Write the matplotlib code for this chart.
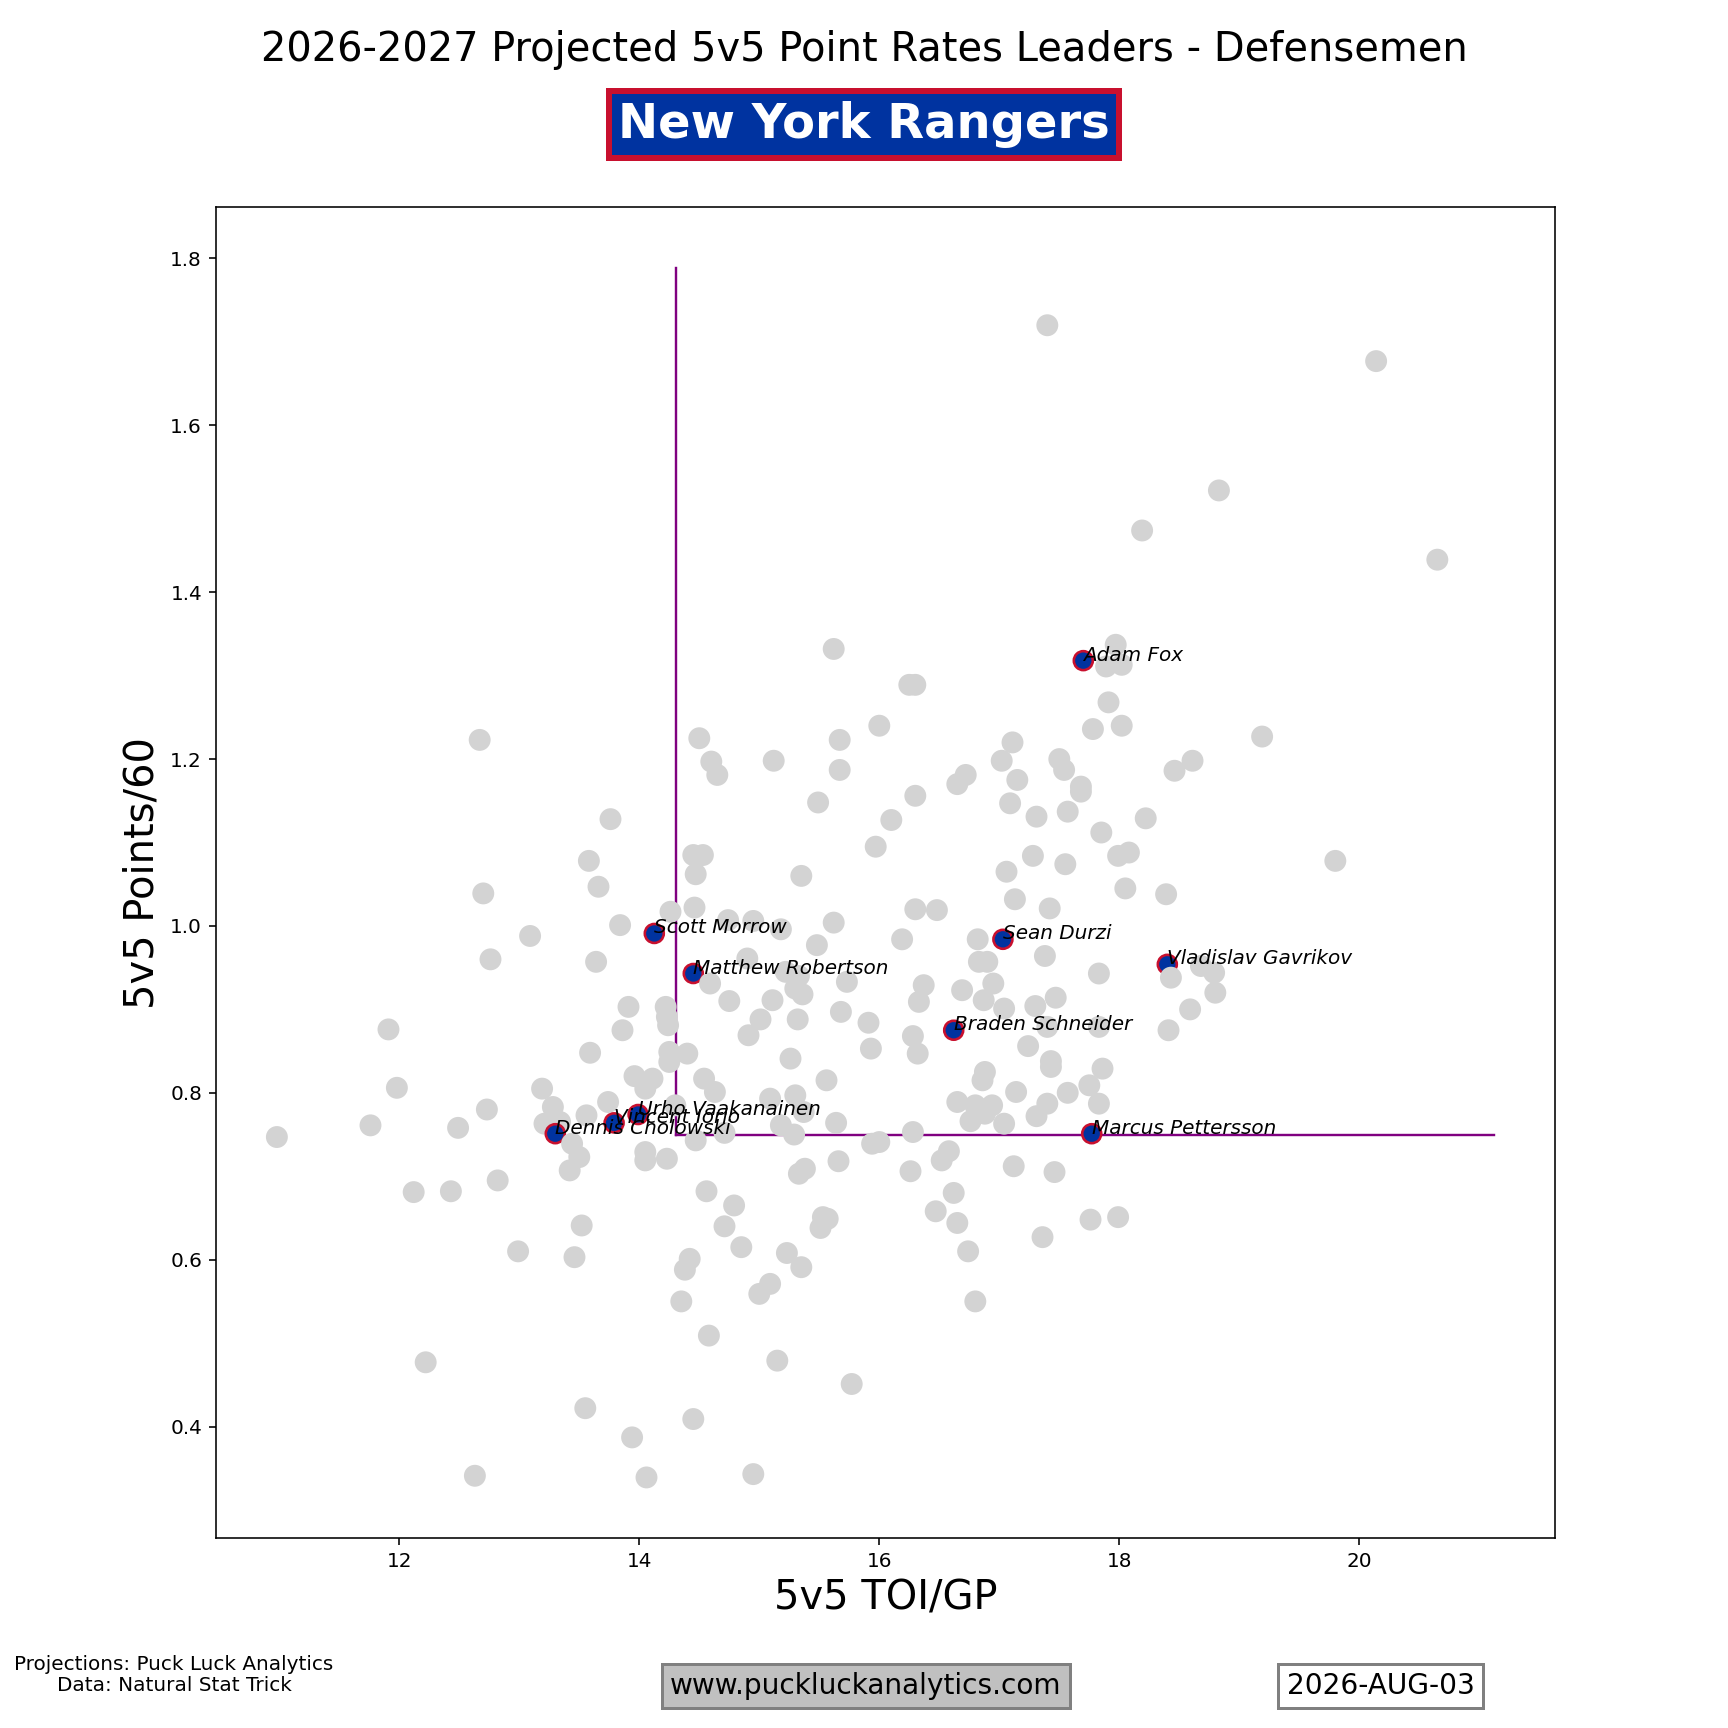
import numpy as np
import matplotlib
matplotlib.use("Agg")
import matplotlib.pyplot as plt

# ---------------- data ----------------
league_toi = [
    10.98, 11.76, 12.49, 12.73, 12.12, 12.43, 12.82, 13.19, 13.28, 13.34, 13.21, 13.56, 13.74, 13.44,
    13.50, 13.42, 14.05, 14.05, 14.23, 13.52, 12.99, 13.46, 12.22, 13.55, 13.94, 12.63, 14.06,
    12.67, 13.76, 13.58, 13.66, 12.70, 14.26, 13.84, 13.09, 12.76, 13.64, 13.91, 14.22, 14.23, 14.24,
    11.91, 13.86, 13.59, 14.25, 14.25, 11.98, 13.96, 14.11, 14.05,
    15.09, 15.30, 16.65, 16.80, 16.94, 17.40, 17.31, 16.76, 16.88, 17.04, 16.28, 15.64, 15.37, 15.18,
    15.29, 14.71, 14.47, 14.30, 15.94, 16.00, 15.66, 15.33, 15.38, 16.26, 16.52, 16.58, 17.12, 17.46,
    14.56, 14.79, 14.71, 14.85, 15.53, 15.57, 15.51, 16.62, 16.47, 16.65, 16.74, 17.36, 14.42, 14.38,
    15.23, 15.35, 15.09, 15.00, 14.35, 16.80, 14.58, 15.15, 15.77, 14.45, 14.95,
    15.62, 16.25, 16.30, 16.00, 15.67, 15.67, 14.50, 14.60, 14.65, 15.12, 15.49, 16.30, 16.72, 16.65,
    17.11, 17.02, 17.15, 17.09, 17.31, 16.10, 15.97, 14.45, 14.53, 14.47, 15.35, 17.28, 17.06, 17.13,
    17.42, 16.30, 16.48, 14.46, 14.74, 14.95, 15.18, 15.62, 15.48, 16.19, 16.82, 17.38, 16.83, 16.90,
    14.90, 14.59, 15.22, 15.30, 15.36, 15.33, 15.73, 16.37, 16.69, 16.95, 16.33, 16.87, 17.04, 17.30,
    17.47, 14.75, 15.11, 15.01, 15.32, 15.68, 15.91, 14.91, 16.28, 17.24, 17.40, 15.26, 15.93, 16.32,
    14.40, 14.54, 14.63, 15.56, 16.88, 16.86, 17.14, 17.43, 17.43,
    17.97, 17.89, 18.02, 17.91, 17.78, 18.02, 19.19, 17.50, 17.54, 18.61, 18.46, 17.68, 17.68, 17.57,
    18.22, 17.85, 17.99, 18.08, 17.55, 19.80, 18.05, 18.39, 17.83, 18.43, 18.68, 18.79, 18.80, 18.59,
    17.83, 18.41, 17.86, 17.75, 17.57, 17.83,
    17.40, 20.14, 18.83, 18.19, 20.65, 17.76, 17.99,
]
league_pts60 = [
    0.747, 0.761, 0.758, 0.780, 0.681, 0.682, 0.695, 0.805, 0.783, 0.765, 0.763, 0.773, 0.789, 0.739,
    0.723, 0.707, 0.729, 0.719, 0.721, 0.641, 0.610, 0.603, 0.477, 0.422, 0.387, 0.341, 0.339,
    1.223, 1.128, 1.078, 1.047, 1.039, 1.017, 1.001, 0.988, 0.960, 0.957, 0.903, 0.903, 0.891, 0.881,
    0.876, 0.875, 0.848, 0.849, 0.837, 0.806, 0.820, 0.817, 0.805,
    0.793, 0.797, 0.789, 0.785, 0.785, 0.787, 0.772, 0.766, 0.775, 0.763, 0.753, 0.764, 0.777, 0.761,
    0.750, 0.752, 0.743, 0.785, 0.739, 0.741, 0.718, 0.703, 0.709, 0.706, 0.719, 0.730, 0.712, 0.705,
    0.682, 0.665, 0.640, 0.615, 0.651, 0.649, 0.638, 0.680, 0.658, 0.644, 0.610, 0.627, 0.601, 0.588,
    0.608, 0.591, 0.571, 0.559, 0.550, 0.550, 0.509, 0.479, 0.451, 0.409, 0.343,
    1.332, 1.289, 1.289, 1.240, 1.223, 1.187, 1.225, 1.197, 1.181, 1.198, 1.148, 1.156, 1.181, 1.170,
    1.220, 1.198, 1.175, 1.147, 1.131, 1.127, 1.095, 1.085, 1.085, 1.062, 1.060, 1.084, 1.065, 1.032,
    1.021, 1.020, 1.019, 1.022, 1.007, 1.006, 0.996, 1.004, 0.977, 0.984, 0.984, 0.964, 0.957, 0.957,
    0.961, 0.931, 0.945, 0.925, 0.918, 0.940, 0.933, 0.929, 0.923, 0.931, 0.909, 0.911, 0.901, 0.904,
    0.914, 0.910, 0.911, 0.888, 0.888, 0.897, 0.884, 0.869, 0.868, 0.856, 0.879, 0.841, 0.853, 0.847,
    0.847, 0.817, 0.801, 0.815, 0.825, 0.815, 0.801, 0.838, 0.831,
    1.337, 1.311, 1.313, 1.268, 1.236, 1.240, 1.227, 1.200, 1.187, 1.198, 1.186, 1.167, 1.161, 1.137,
    1.129, 1.112, 1.084, 1.088, 1.074, 1.078, 1.045, 1.038, 0.943, 0.938, 0.952, 0.944, 0.920, 0.900,
    0.879, 0.875, 0.829, 0.809, 0.800, 0.787,
    1.720, 1.677, 1.522, 1.474, 1.439, 0.648, 0.651,
]

team_players = ["Adam Fox", "Sean Durzi", "Vladislav Gavrikov", "Scott Morrow", "Matthew Robertson",
                "Braden Schneider", "Urho Vaakanainen", "Vincent Iorio", "Dennis Cholowski",
                "Marcus Pettersson"]
team_toi = [17.70, 17.03, 18.40, 14.125, 14.45, 16.62, 13.99, 13.79, 13.30, 17.77]
team_pts60 = [1.318, 0.984, 0.954, 0.991, 0.943, 0.875, 0.774, 0.764, 0.751, 0.751]

avg_toi = 14.31
avg_pts60 = 0.749

team_name = "New York Rangers"
title = "2026-2027 Projected 5v5 Point Rates Leaders - Defensemen"
date_label = "2026-AUG-03"

# ---------------- style ----------------
TEAM_BLUE = "#0033A0"
TEAM_RED = "#C8102E"
GREY = "#D3D3D3"
LINE = "#800080"

fig = plt.figure(figsize=(12, 12), dpi=144)
ax = fig.add_subplot(111)

all_x = np.array(league_toi + team_toi)
all_y = np.array(league_pts60 + team_pts60)
is_team = np.array([False] * len(league_toi) + [True] * len(team_toi))
order = np.argsort(-all_y, kind="stable")

face = np.where(is_team[order, None], matplotlib.colors.to_rgba_array([TEAM_BLUE]),
                matplotlib.colors.to_rgba_array([GREY]))
edge = np.where(is_team[order, None], matplotlib.colors.to_rgba_array([TEAM_RED]),
                matplotlib.colors.to_rgba_array(["none"]))
sizes = np.where(is_team[order], 90, 120)
lws = np.where(is_team[order], 1.3, 0.0)

ax.scatter(all_x[order], all_y[order], s=sizes, c=face, edgecolors=edge, linewidths=lws, zorder=2)

for name, x, y in zip(team_players, team_toi, team_pts60):
    ax.text(x, y, name, fontsize=10, style="italic", zorder=4)

y_top = max(all_y) * 1.04
x_end = max(all_x) * 1.023
ax.plot([avg_toi, avg_toi], [avg_pts60, y_top], color=LINE, lw=1.2, zorder=1)
ax.plot([avg_toi, x_end], [avg_pts60, avg_pts60], color=LINE, lw=1.2, zorder=1)

ax.set_xlabel("5v5 TOI/GP", fontsize=20)
ax.set_ylabel("5v5 Points/60", fontsize=20)

fig.text(0.5, 0.971, title, ha="center", va="center", fontsize=20)
fig.text(0.5, 0.928, team_name, ha="center", va="center", fontsize=24, fontweight="bold",
         color="white",
         bbox=dict(boxstyle="square,pad=0.2", facecolor=TEAM_BLUE, edgecolor=TEAM_RED, linewidth=3))

fig.text(0.1007, 0.0307, "Projections: Puck Luck Analytics\nData: Natural Stat Trick",
         ha="center", va="center", fontsize=10, linespacing=1.1)
fig.text(0.501, 0.0243, "www.puckluckanalytics.com", ha="center", va="center", fontsize=14,
         bbox=dict(boxstyle="square,pad=0.3", facecolor="#C0C0C0", edgecolor="#808080", linewidth=1.5))
fig.text(0.799, 0.0243, date_label, ha="center", va="center", fontsize=14,
         bbox=dict(boxstyle="square,pad=0.3", facecolor="white", edgecolor="#808080", linewidth=1.5))

fig.savefig("out.png", dpi=144)
